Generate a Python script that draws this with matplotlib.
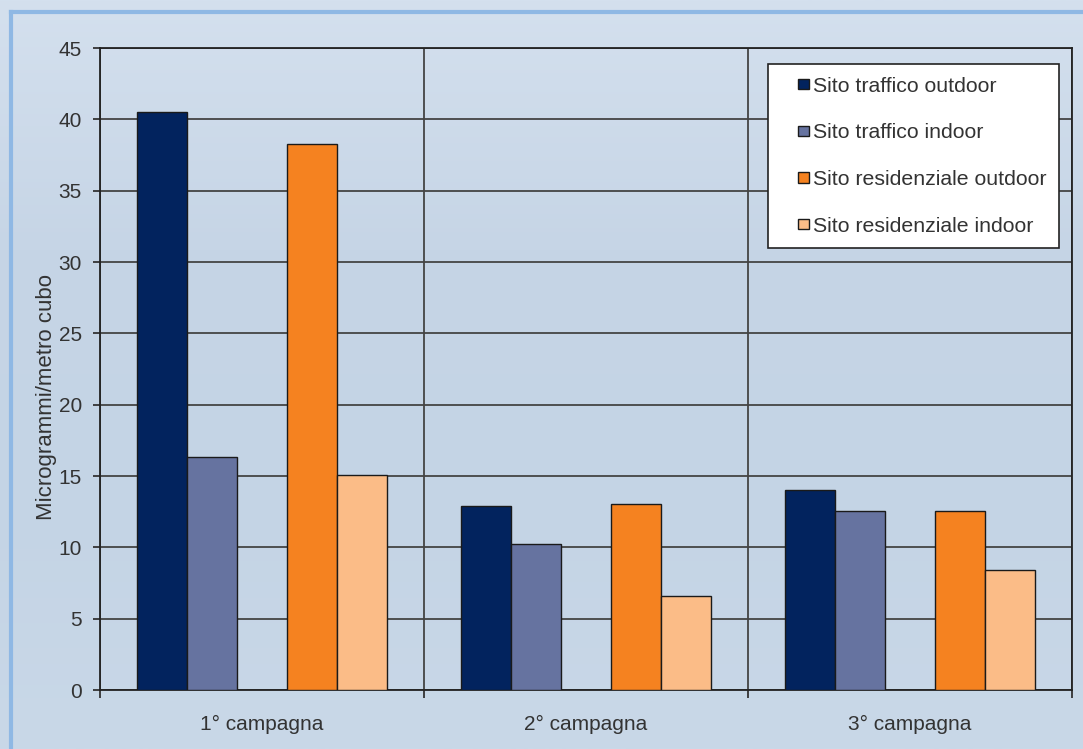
import matplotlib
matplotlib.use("Agg")
import matplotlib.pyplot as plt
import numpy as np
from matplotlib.lines import Line2D
from matplotlib.patches import Rectangle
from matplotlib.legend_handler import HandlerPatch

plt.rcParams['font.family'] = ['Liberation Sans', 'DejaVu Sans']

campagne = ["1° campagna", "2° campagna", "3° campagna"]
series = ["Sito traffico outdoor", "Sito traffico indoor",
          "Sito residenziale outdoor", "Sito residenziale indoor"]
traffico_outdoor = [40.5, 12.9, 14.0]
traffico_indoor = [16.3, 10.2, 12.55]
residenziale_outdoor = [38.3, 13.05, 12.55]
residenziale_indoor = [15.1, 6.6, 8.4]
yticks = [0, 5, 10, 15, 20, 25, 30, 35, 40, 45]

colors = ["#02235e", "#6673a0", "#f58220", "#fbbc87"]
values = [traffico_outdoor, traffico_indoor, residenziale_outdoor, residenziale_indoor]
# five slots per group, the middle one is empty
slots = [-2, -1, 1, 2]


def small_square(legend, orig_handle, xdescent, ydescent, width, height, fontsize):
    # little square sitting at the right end of the handle box
    sq = 7.3
    return Rectangle((-xdescent + width - sq, -ydescent + (height - sq) / 2), sq, sq)


fig = plt.figure(figsize=(10.83, 7.49), dpi=100)

# sky-like background gradient
bg = fig.add_axes([0, 0, 1, 1], zorder=-10)
grad = np.linspace(0, 1, 256).reshape(-1, 1)
cmap = matplotlib.colors.LinearSegmentedColormap.from_list(
    "sky", ["#d4e0ee", "#c6d5e6", "#c4d4e5", "#c9d8e8"])
bg.imshow(grad, aspect="auto", cmap=cmap, extent=[0, 1, 0, 1])
bg.axis("off")

# light blue frame (top and left)
fig.add_artist(Line2D([11 / 1083, 1], [1 - 12 / 749, 1 - 12 / 749],
                      transform=fig.transFigure, color="#8fb8e4", lw=3))
fig.add_artist(Line2D([11 / 1083, 11 / 1083], [0, 1 - 12 / 749],
                      transform=fig.transFigure, color="#8fb8e4", lw=3))

ax = fig.add_axes([100 / 1083, 1 - 690 / 749, 972 / 1083, 642 / 749])
ax.set_facecolor("none")

x = np.arange(len(campagne))
w = 1 / 6.485
bars = []
for s, vals, col, lab in zip(slots, values, colors, series):
    b = ax.bar(x + s * w, vals, width=w, color=col, edgecolor="#1a1a1a",
               linewidth=1.0, label=lab, zorder=3)
    bars.append(b)

ax.set_xlim(-0.5, 2.5)
ax.set_ylim(0, 45)
ax.set_yticks(yticks)
ax.set_xticks(x)
ax.set_xticklabels(campagne)
ax.set_xticks([-0.5, 0.5, 1.5, 2.5], minor=True)
ax.tick_params(axis="x", which="major", length=0, pad=18, labelsize=15,
               labelcolor="#333333")
ax.tick_params(axis="x", which="minor", length=6, width=1.3, color="#333333",
               direction="out")
ax.tick_params(axis="y", length=5, width=1.3, color="#333333", pad=8,
               labelsize=15, labelcolor="#333333")
ax.yaxis.grid(True, color="#444444", lw=1.3, zorder=1)
ax.xaxis.grid(True, which="minor", color="#444444", lw=1.3, zorder=1)
for sp in ax.spines.values():
    sp.set_color("#222222")
    sp.set_linewidth(1.3)

ax.set_ylabel("Microgrammi/metro cubo", fontsize=16, color="#333333")
ax.yaxis.set_label_coords(-0.044, 0.456)

leg = ax.legend(handles=[b[0] for b in bars], labels=series,
                handler_map={Rectangle: HandlerPatch(patch_func=small_square)},
                loc="upper right", bbox_to_anchor=(1 - 13 / 972, 1 - 16 / 642),
                fontsize=15.3, frameon=True, fancybox=False, framealpha=1,
                edgecolor="#222222", handlelength=1.3, handleheight=0.7,
                handletextpad=0.2, labelspacing=1.3, borderpad=0.6,
                borderaxespad=0)
leg.get_frame().set_linewidth(1.2)
for t in leg.get_texts():
    t.set_color("#333333")

fig.savefig("out.png", dpi=100)
